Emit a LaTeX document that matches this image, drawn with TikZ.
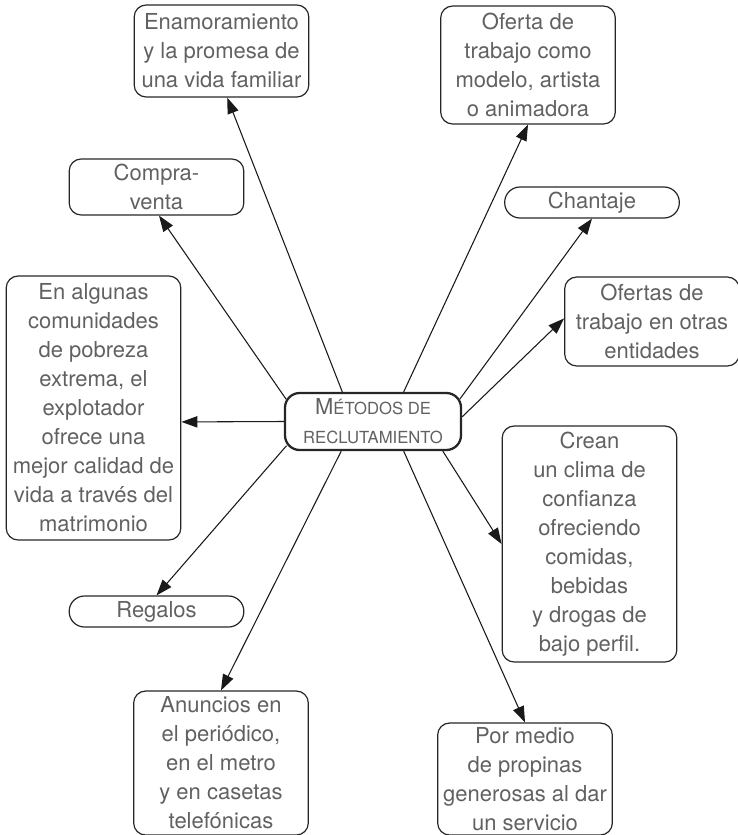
\documentclass[tikz,border=0pt]{standalone}
\usepackage{fontspec}
\setmainfont{TeX Gyre Heros}
\usetikzlibrary{arrows.meta}

% small caps by hand
\newcommand{\pcaps}[1]{{\fontsize{12.5}{22.5}\selectfont #1}}

\tikzset{
  caja/.style={draw=black!85, line width=0.9pt, rounded corners=9pt, align=center,
    minimum width=131pt, inner sep=2pt, text=black!62,
    font=\fontsize{16.5}{21.75}\selectfont},
  pildora/.style={caja, rounded corners=11.5pt},
  centro/.style={caja, line width=1.7pt, rounded corners=11pt, minimum width=132pt},
  flecha/.style={-{Triangle[length=12pt,width=8.5pt]}, line width=0.8pt, draw=black!90},
}

\begin{document}
\begin{tikzpicture}[x=0.75pt, y=-0.75pt]

  \useasboundingbox (0,0) rectangle (738,835);

  % Center node
  \node[centro, minimum height=42.75pt] (metodos) at (373,421.5)
    {M\pcaps{ÉTODOS DE}\\\pcaps{RECLUTAMIENTO}};

  % Boxes around it
  \node[caja, minimum height=69pt] (enam) at (221.5,51)
    {Enamoramiento\\y la promesa de\\una vida familiar};
  \node[caja, minimum height=88.5pt] (oferta) at (528,65)
    {Oferta de\\trabajo como\\modelo, artista\\o animadora};
  \node[caja, minimum height=42pt] (compra) at (156.5,187)
    {Compra-\\venta};
  \node[pildora, minimum height=23.25pt] (chantaje) at (592,202.5)
    {Chantaje};
  \node[caja, minimum height=66.75pt] (otras) at (652,321.5)
    {Ofertas de\\trabajo en otras\\entidades};
  \node[caja, minimum height=198pt] (pobreza) at (93.5,408)
    {En algunas\\comunidades\\de pobreza\\extrema, el\\explotador\\ofrece una\\mejor calidad de\\vida a través del\\matrimonio};
  \node[caja, minimum height=177pt] (confianza) at (589.5,544)
    {Crean\\un clima de\\confianza\\ofreciendo\\comidas,\\bebidas\\y drogas de\\bajo perfil.};
  \node[pildora, minimum height=23.25pt] (regalos) at (156.5,611.5)
    {Regalos};
  \node[caja, minimum height=108pt] (anuncios) at (221,763)
    {Anuncios en\\el periódico,\\en el metro\\y en casetas\\telefónicas};
  \node[caja, minimum height=84pt] (propinas) at (525,779)
    {Por medio\\de propinas\\generosas al dar\\un servicio};

  % Arrows out of the center
  \draw[flecha] (metodos.136.5) -- (enam.-83);
  \draw[flecha] (metodos.44.5) -- (oferta.south);
  \draw[flecha, shorten <=-3pt] (metodos.164) -- (compra.-85);
  \draw[flecha, shorten <=-3pt] (metodos.16.3) -- (chantaje.south);
  \draw[flecha] (metodos.3) -- (otras.178);
  \draw[flecha] (metodos.west) -- (pobreza.-9);
  \draw[flecha, shorten <=-3pt] (metodos.197.3) -- (regalos.north);
  \draw[flecha] (metodos.223.5) -- (anuncios.north);
  \draw[flecha] (metodos.-44.5) -- (propinas.north);
  \draw[flecha] (metodos.-23.4) -- (confianza.west);

\end{tikzpicture}
\end{document}
